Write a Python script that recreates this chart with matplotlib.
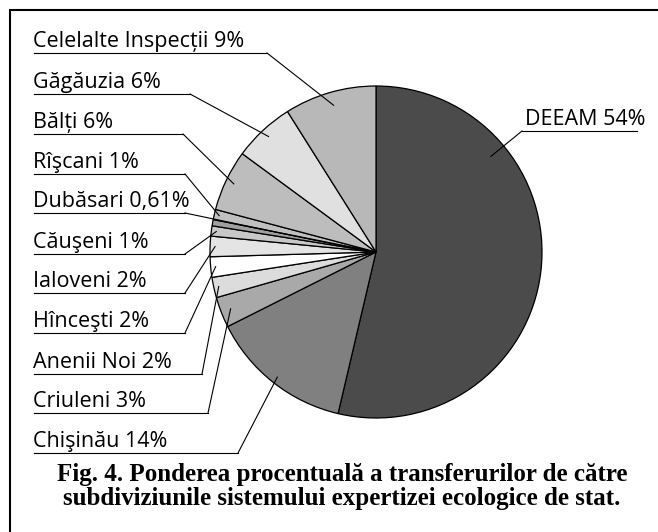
import numpy as np
import matplotlib.pyplot as plt

W, H = 658, 532

# pie data, clockwise from the top
names = ["DEEAM", "Chişinău", "Criuleni", "Anenii Noi", "Hînceşti", "Ialoveni",
         "Căuşeni", "Dubăsari", "Rîşcani", "Bălți", "Găgăuzia", "Celelalte Inspecții"]
shares = [54, 14, 3, 2, 2, 2, 1, 0.61, 1, 6, 6, 9]
greys = ["#4b4b4b", "#808080", "#a9a9a9", "#dcdcdc", "#ffffff", "#e4e4e4",
         "#c8c8c8", "#a0a0a0", "#c0c0c0", "#bdbdbd", "#e0e0e0", "#b8b8b8"]

caption = ["Fig. 4. Ponderea procentuală a transferurilor de către",
           "subdiviziunile sistemului expertizei ecologice de stat."]

# label layout (pixels, y measured from the top)
under_y = [131, 453, 413, 374, 333, 293, 254, 213, 174, 134, 94, 53]
knee_x = [522, 238, 208, 202, 185, 185, 185, 185, 185, 183, 190, 267]
anchor_frac = [0.26, 0.5, 0.5, 0.5, 0.5, 0.5, 0.5, 0.5, 0.5, 0.5, 0.5, 0.5]
anchor_r = [0.9, 0.96, 0.94, 0.97, 0.97, 0.97, 0.97, 0.2, 0.97, 0.95, 0.95, 0.92]

cx, cy, R = 376, 252, 166


def fy(y):
    return H - y


fig = plt.figure(figsize=(W / 100, H / 100), dpi=100)
ax = fig.add_axes([0, 0, 1, 1])

wedges, _ = ax.pie(shares, colors=greys, startangle=90, counterclock=False,
                   center=(cx, fy(cy)), radius=R,
                   wedgeprops=dict(edgecolor="black", linewidth=0.9))

ax.set_xlim(0, W)
ax.set_ylim(0, H)
ax.set_aspect("equal")
ax.axis("off")

for i, w in enumerate(wedges):
    a = np.radians(w.theta2 - anchor_frac[i] * (w.theta2 - w.theta1))
    px = cx + anchor_r[i] * R * np.cos(a)
    py = fy(cy) + anchor_r[i] * R * np.sin(a)
    uy = fy(under_y[i])
    txt = f"{names[i]} {shares[i]:g}%".replace(".", ",")
    if i == 0:
        x0, x1, tx = knee_x[i], 637, 525
    else:
        x0, x1, tx = 34, knee_x[i], 33
    ax.plot([x0, x1], [uy, uy], color="black", lw=0.8)
    ax.plot([knee_x[i], px], [uy, py], color="black", lw=0.8)
    ax.text(tx, uy + 6, txt, ha="left", va="baseline",
            fontsize=15.5, family="Open Sans")

# frame (open on the right and bottom)
ax.plot([10, 10, W], [0, fy(10), fy(10)], color="black", lw=1.5,
        solid_joinstyle="miter", clip_on=False)

for line, y in zip(caption, [481, 505]):
    ax.text(342, fy(y), line, ha="center", va="baseline", fontsize=18,
            family="Liberation Serif", fontweight="bold")

fig.savefig("out.png", dpi=100)
